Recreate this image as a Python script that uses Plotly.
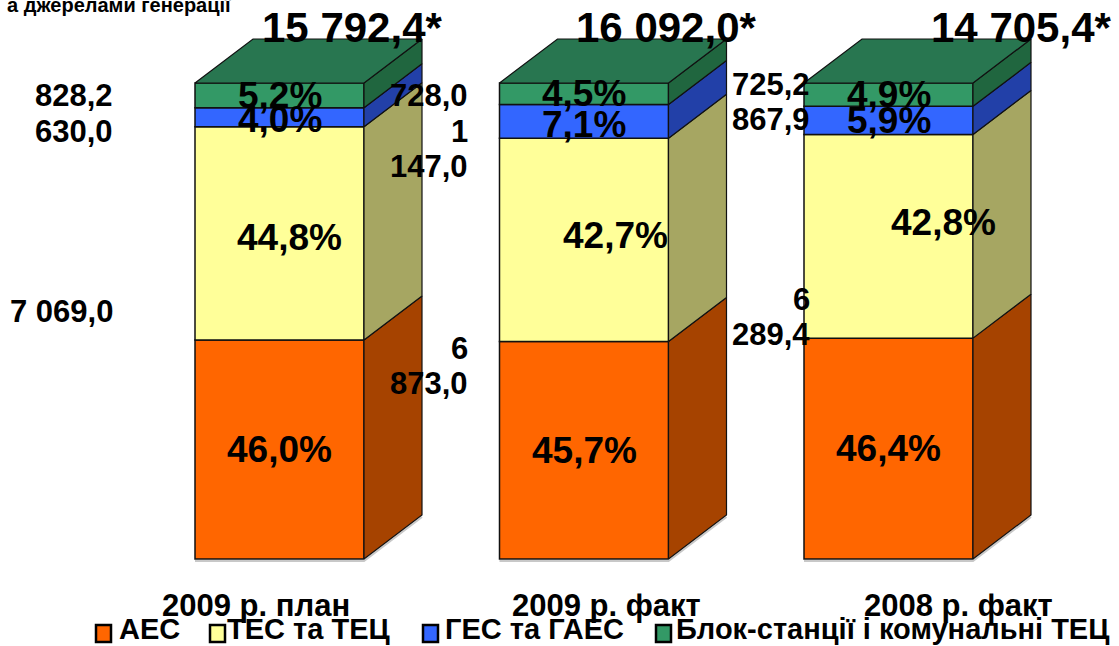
import plotly.graph_objects as go

# ---------------- data ----------------
categories = ["2009 р. план", "2009 р. факт", "2008 р. факт"]
series_names = ["АЕС", "ТЕС та ТЕЦ", "ГЕС та ГАЕС", "Блок-станції і комунальні ТЕЦ"]
aes_pct = [46.0, 45.7, 46.4]
tes_pct = [44.8, 42.7, 42.8]
ges_pct = [4.0, 7.1, 5.9]
block_pct = [5.2, 4.5, 4.9]
totals = [15792.4, 16092.0, 14705.4]
tes_val = [7069.0, 6873.0, 6289.4]
ges_val = [630.0, 1147.0, 867.9]
block_val = [828.2, 728.0, 725.2]
title_fragment = "а джерелами генерації"

# ---------------- styling ----------------
FONT = "Arial, Liberation Sans, sans-serif"
front_colors = ["#FF6600", "#FFFF99", "#3366FF", "#339966"]
side_colors = ["#A64300", "#A6A662", "#2240A8", "#20663F"]
top_color = "#287650"
W, H = 1119, 646
bar_w = 0.555
# pixel frame: bar i centre at 279.5 + 304.5*i ; 0% at y=559, 100% at y=83
px_per_unit = 304.5
px_per_pct = 4.76
x0 = -279.5 / px_per_unit
x1 = x0 + W / px_per_unit
y0 = -(H - 559) / px_per_pct
y1 = 559 / px_per_pct
dx = 58 / px_per_unit
dy = 44 / px_per_pct
floor_off = 2 / px_per_pct


def fmt(v):
    return f"{v:,.1f}".replace(",", " ").replace(".", ",")


def fmt_pct(v):
    return f"{v:.1f}".replace(".", ",") + "%"


def py(px):  # pixel row -> paper y
    return 1 - px / H


def pxx(px):  # pixel column -> paper x
    return px / W


series_pct = [aes_pct, tes_pct, ges_pct, block_pct]
xs = list(range(len(categories)))

fig = go.Figure()

# cumulative bases
bases = []
cum = [0.0] * len(xs)
for s in series_pct:
    bases.append(cum[:])
    cum = [c + v for c, v in zip(cum, s)]

# faint floor shadow under each bar
for i in xs:
    xl, xr = i - bar_w / 2, i + bar_w / 2
    fig.add_trace(go.Scatter(
        x=[xl, xr, xr + dx],
        y=[-floor_off, -floor_off, dy - floor_off],
        mode="lines", line=dict(color="#C8C8C8", width=2),
        showlegend=False, hoverinfo="skip"))

# side faces & top faces (3-D look) computed from data
for k, s in enumerate(series_pct):
    for i in xs:
        b = bases[k][i]
        t = b + s[i]
        xr = i + bar_w / 2
        fig.add_trace(go.Scatter(
            x=[xr, xr + dx, xr + dx, xr, xr],
            y=[b, b + dy, t + dy, t, b],
            mode="lines", fill="toself", fillcolor=side_colors[k],
            line=dict(color="#111111", width=1.2),
            showlegend=False, hoverinfo="skip"))
for i in xs:
    t = cum[i]
    xl, xr = i - bar_w / 2, i + bar_w / 2
    fig.add_trace(go.Scatter(
        x=[xl, xl + dx, xr + dx, xr, xl],
        y=[t, t + dy, t + dy, t, t],
        mode="lines", fill="toself", fillcolor=top_color,
        line=dict(color="#111111", width=1.2),
        showlegend=False, hoverinfo="skip"))

# front faces
for k, s in enumerate(series_pct):
    fig.add_trace(go.Bar(
        x=xs, y=s, base=bases[k], width=bar_w, name=series_names[k],
        marker=dict(color=front_colors[k], line=dict(color="#111111", width=1.5)),
        hoverinfo="skip", showlegend=False))

ann = []
shapes = []
# percent labels inside the bars (segment centres, some shifted)
pct_shift = {  # (series, bar): (xshift, yshift)
    (1, 0): (10, -4), (1, 1): (31, 4), (1, 2): (55, 14),
    (2, 0): (0, -2), (2, 1): (0, -3),
}
for k, s in enumerate(series_pct):
    for i in xs:
        xs_, ys_ = pct_shift.get((k, i), (0, 0))
        ann.append(dict(x=i, y=bases[k][i] + s[i] / 2, xref="x", yref="y",
                        text=fmt_pct(s[i]), showarrow=False,
                        xshift=xs_, yshift=ys_,
                        font=dict(family=FONT, size=37, color="black", weight="bold")))

# totals above bars
total_x_px = [352, 666, 1021]
for i in xs:
    ann.append(dict(x=pxx(total_x_px[i]), y=py(27), xref="paper", yref="paper",
                    text=fmt(totals[i]) + "*", showarrow=False,
                    xanchor="center", yanchor="middle",
                    font=dict(family=FONT, size=42, color="black", weight="bold")))

# absolute value labels (right aligned), manually placed as in the original
value_series = [block_val, ges_val, tes_val]
label_right_px = [115, 470, 812]
label_rows_px = [  # per bar: rows for block, ges, tes
    [96, 131, 311],
    [96, 131, 348],
    [85, 119, 299],
]
wrap = [
    [False, False, False],
    [False, True, True],
    [False, False, True],
]
for i in xs:
    for j, vals in enumerate(value_series):
        txt = fmt(vals[i])
        lines = txt.split(" ", 1) if wrap[i][j] else [txt]
        for n, line in enumerate(lines):
            ann.append(dict(x=pxx(label_right_px[i]), y=py(label_rows_px[i][j] + 35 * n),
                            xref="paper", yref="paper", text=line, showarrow=False,
                            xanchor="right", yanchor="middle",
                            font=dict(family=FONT, size=31, color="black", weight="bold")))

# category labels
cat_x_px = [256, 606, 958]
for i, c in enumerate(categories):
    ann.append(dict(x=pxx(cat_x_px[i]), y=py(605), xref="paper", yref="paper",
                    text=c, showarrow=False, xanchor="center", yanchor="middle",
                    font=dict(family=FONT, size=31, color="black", weight="bold")))

# legend (built by hand to reproduce the original's tight spacing)
legend_sym_px = [96, 210, 423, 656]
legend_txt_px = [118, 226, 444, 675]
for k, name in enumerate(series_names):
    shapes.append(dict(type="rect", xref="paper", yref="paper",
                       x0=pxx(legend_sym_px[k]), x1=pxx(legend_sym_px[k] + 15),
                       y0=py(642), y1=py(625),
                       fillcolor=front_colors[k], line=dict(color="black", width=2.5)))
    ann.append(dict(x=pxx(legend_txt_px[k]), y=py(646), xref="paper", yref="paper",
                    text=name, showarrow=False, xanchor="left", yanchor="bottom",
                    borderpad=0,
                    font=dict(family=FONT, size=29, color="black", weight="bold")))

# title fragment (cut off in the original)
ann.append(dict(x=pxx(233), y=py(5), xref="paper", yref="paper", text=title_fragment,
                showarrow=False, xanchor="right", yanchor="middle",
                font=dict(family=FONT, size=20, color="black", weight="bold")))

fig.update_layout(
    width=W, height=H,
    margin=dict(l=0, r=0, t=0, b=0, autoexpand=False),
    paper_bgcolor="white", plot_bgcolor="white",
    barmode="overlay",
    xaxis=dict(range=[x0, x1], visible=False, fixedrange=True),
    yaxis=dict(range=[y0, y1], visible=False, fixedrange=True),
    annotations=ann,
    shapes=shapes,
    showlegend=False,
)

fig.write_html(
    "out.html",
    config={"displayModeBar": False},
    post_script="document.body.style.margin='0';document.body.style.overflow='hidden';",
)
